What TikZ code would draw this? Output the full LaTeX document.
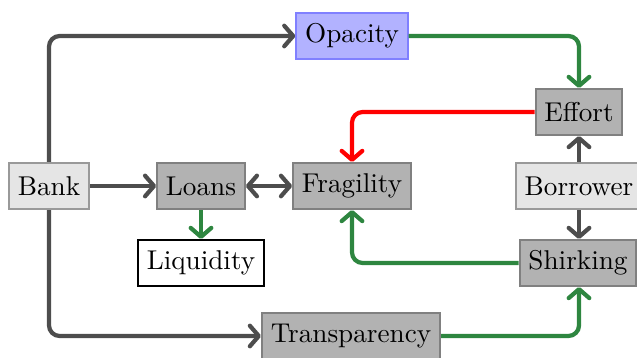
\documentclass[tikz,border=0pt]{standalone}
\usetikzlibrary{arrows.meta}
\definecolor{mygreen}{RGB}{46,134,64}
\definecolor{mygray}{RGB}{77,77,77}
\begin{document}
\begin{tikzpicture}[x=0.3788pt,y=-0.3788pt,
  font=\fontsize{10.3}{12.4}\selectfont,
  box/.style={draw=black!50,fill=black!30,line width=0.8pt,minimum height=17.4pt,inner sep=3.33pt,anchor=center},
  lbox/.style={box,draw=black!40,fill=black!10},
  obox/.style={box,draw=blue!50,fill=blue!30},
  wbox/.style={box,draw=black,fill=white},
  conn/.style={line width=1.6pt,rounded corners=4pt,-{Straight Barb[length=3.4pt,width=7.8pt,line join=round,line cap=round]}},
  gconn/.style={conn,draw=mygray},
  grconn/.style={conn,draw=mygreen},
  rconn/.style={conn,draw=red}]
\useasboundingbox (0,0) rectangle (637,358);
\node[obox] (opacity) at (352,36) {Opacity};
\node[box] (effort) at (579,112) {Effort};
\node[lbox] (bank) at (49,186) {Bank};
\node[box] (loans) at (201,186) {Loans};
\node[box] (fragility) at (352,186) {Fragility};
\node[lbox] (borrower) at (579,186) {Borrower};
\node[wbox] (liquidity) at (201,263) {Liquidity};
\node[box] (shirking) at (578,263) {Shirking};
\node[box] (transparency) at (351,336) {Transparency};
\draw[gconn] (bank.north) |- (opacity.west);
\draw[gconn] (bank.south) |- (transparency.west);
\draw[gconn] (bank.east) -- (loans.west);
\draw[gconn,{Straight Barb[length=3.4pt,width=7.8pt,line join=round,line cap=round]}-{Straight Barb[length=3.4pt,width=7.8pt,line join=round,line cap=round]}] (loans.east) -- (fragility.west);
\draw[grconn] (loans.south) -- (liquidity.north);
\draw[grconn] (opacity.east) -| (effort.north);
\draw[rconn] (effort.west) -| (fragility.north);
\draw[gconn] (borrower.north) -- (effort.south);
\draw[gconn] (borrower.south) -- (borrower.south |- shirking.north);
\draw[grconn] (shirking.west) -| (fragility.south);
\draw[grconn] (transparency.east) -| (borrower.south |- shirking.south);
\end{tikzpicture}
\end{document}
